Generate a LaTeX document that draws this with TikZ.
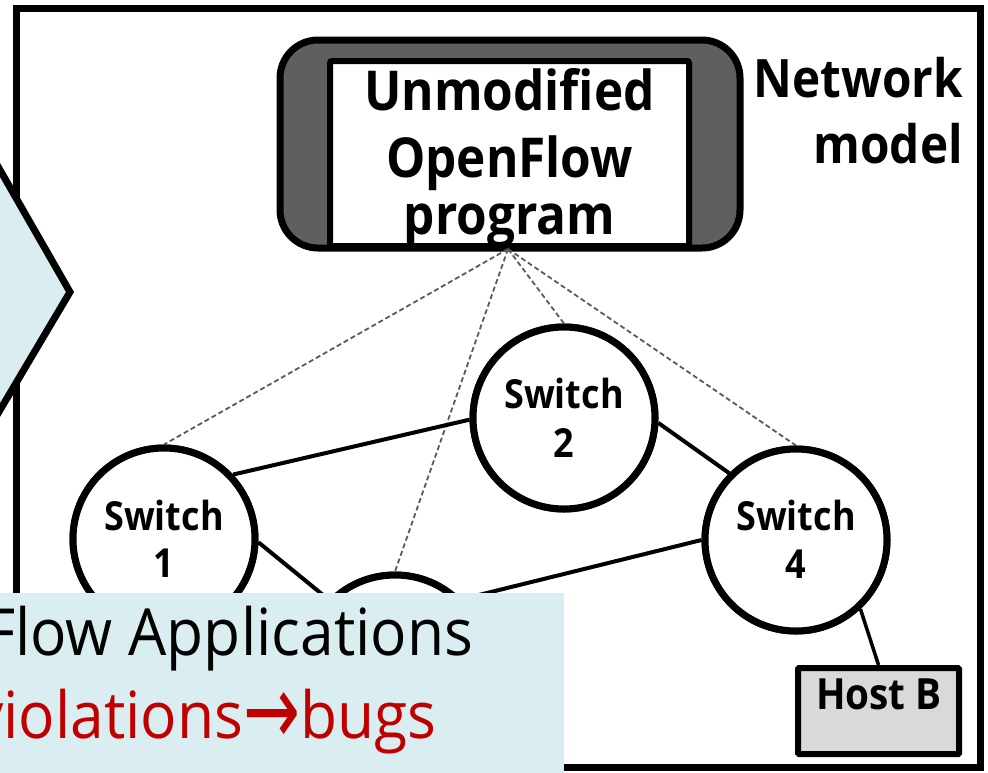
\documentclass[tikz,border=0pt]{standalone}
\usepackage{fontspec}
\usepackage{graphicx}
\setmainfont{Open Sans}
\newfontfamily\headfont[FakeStretch=0.9]{Open Sans}
\newfontfamily\bodyfont[FakeStretch=0.93]{Open Sans}
\newfontfamily\symfont{DejaVu Sans}
\usetikzlibrary{calc}

\definecolor{paleblue}{RGB}{218,237,240}
\definecolor{ctrlgray}{RGB}{95,95,95}
\definecolor{hostgray}{RGB}{217,217,217}
\definecolor{bugred}{RGB}{192,0,0}
\definecolor{ctrlline}{RGB}{90,90,90}

\begin{document}
\begin{tikzpicture}[x=1pt,y=-1pt,
  switch/.style={circle, draw=black, line width=7pt, fill=white,
    minimum size=182pt, inner sep=0pt},
  swtext/.style={anchor=base, inner sep=0pt,
    font=\headfont\bfseries\fontsize{40}{40}\selectfont},
  bigtext/.style={inner sep=0pt,
    font=\headfont\bfseries\fontsize{55}{55}\selectfont},
  modeltext/.style={inner sep=0pt, anchor=base east,
    font=\headfont\bfseries\fontsize{53}{53}\selectfont},
  link/.style={draw=black, line width=4pt},
  ctrllink/.style={draw=ctrlline, line width=1.8pt, dash pattern=on 5pt off 3pt},
  ctrlbox/.style={draw=black, line width=7pt, fill=ctrlgray,
    rounded corners=38pt, minimum width=460pt, minimum height=208pt, inner sep=0pt},
  progbox/.style={draw=black, line width=6pt, fill=white,
    rounded corners=2pt, minimum width=359pt, minimum height=185pt, inner sep=0pt},
  hostbox/.style={draw=black, line width=6pt, fill=hostgray,
    rounded corners=1pt, minimum width=161pt, minimum height=86pt, inner sep=0pt},
  slidetext/.style={anchor=base west, inner sep=0pt,
    font=\bodyfont\fontsize{65}{65}\selectfont}
]
\useasboundingbox (0,0) rectangle (988,772);
\clip (0,0) rectangle (988,772);

% outer frame of the network model
\draw[line width=7pt] (16.5,8.5) rectangle (980,767);

% controller: program inside the model
\node[ctrlbox] (ctrl) at (510,144) {};
\node[progbox] (prog) at (509.5,153.5) {};
\node[bigtext, anchor=base] (progl1) at (509.5,110) {Unmodified};
\node[bigtext, anchor=base] (progl2) at (509.5,177) {OpenFlow};
\node[bigtext, anchor=base] (progl3) at (509.5,234) {program};
\coordinate (hub) at (508,249);

\node[modeltext] (netl1) at (963,97) {Network};
\node[modeltext] (netl2) at (963,163) {model};

% switches
\node[switch] (s1) at (164,539) {};
\node[switch] (s2) at (564,418) {};
\node[switch] (s3) at (395,666) {};
\node[switch] (s4) at (796,540) {};

% control channels
\path[ctrllink] (hub) -- (s1.north);
\path[ctrllink] (hub) -- (s3.north);
\path[ctrllink] (hub) -- (s2.north);
\path[ctrllink] (hub) -- (s4.north);

% data links
\path[link] (s1.43) -- (s2.181);
\path[link] (s2.-3) -- (s4.135);
\path[link] (s1.-2) -- (s3.135);
\path[link] (s3.45) -- (s4.180);

% redraw switches over the channel ends
\node[switch] (s1c) at (s1) {};
\node[switch] (s2c) at (s2) {};
\node[switch] (s3c) at (s3) {};
\node[switch] (s4c) at (s4) {};
\node[swtext] (s1a) at (164,530) {Switch};
\node[swtext] (s1b) at (164,577) {1};
\node[swtext] (s2a) at (564,408) {Switch};
\node[swtext] (s2b) at (564,457) {2};
\node[swtext] (s4a) at (796,530) {Switch};
\node[swtext] (s4b) at (796,578) {4};

% host
\node[hostbox] (hostb) at (878.5,711) {};
\path[link, line width=3.5pt] (s4.-47) -- (hostb.north);
\node[swtext, font=\headfont\bfseries\fontsize{43}{43}\selectfont] (hostl) at (879,709) {Host B};

% chevron arrow on the left edge
\filldraw[fill=paleblue, draw=black, line width=7pt, miter limit=10]
  (-30,117.7) -- (70,292) -- (-30,460.6) -- cycle;

% caption panel
\fill[paleblue] (-10,593) rectangle (564,790);
\node[slidetext] (apps) at (-16,655) {Flow Applications};
\node[slidetext, text=bugred] (viol) at (-27,738)
  {violations\raisebox{-6pt}{\scalebox{1}[1.45]{\symfont\fontsize{68}{68}\selectfont →}}bugs};
\end{tikzpicture}
\end{document}
